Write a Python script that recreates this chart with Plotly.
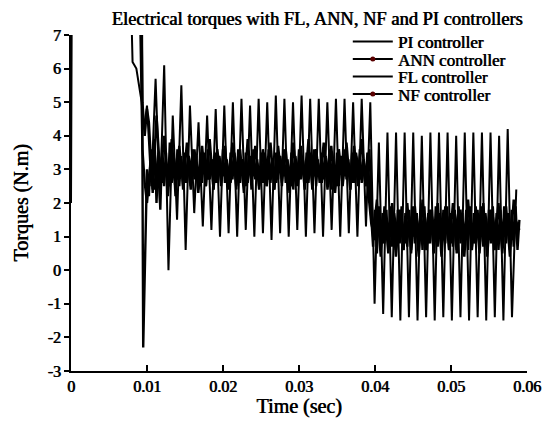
import numpy as np
import plotly.graph_objects as go

# ---------------- data ----------------
x_ticks = [0, 0.01, 0.02, 0.03, 0.04, 0.05, 0.06]
x_tick_labels = ["0", "0.01", "0.02", "0.03", "0.04", "0.05", "0.06"]
y_ticks = [-3, -2, -1, 0, 1, 2, 3, 4, 5, 6, 7]
y_tick_labels = ["-3", "-2", "-1", "0", "1", "2", "3", "4", "5", "6", "7"]

# PI controller: start-up transient, then a large oscillation (peak/trough alternating)
pi_lead_t = [0.0, 0.0002, 0.0078, 0.0080, 0.0081, 0.0086, 0.0090, 0.0093, 0.0096]
pi_lead_v = [2.0, 14.0, 9.0, 7.2, 6.2, 6.0, 5.5, 5.0, 4.2]
pi_osc_t0 = 0.0100
pi_osc_dt = 0.000565
pi_osc_v = [4.9, 2.5, 5.7, 2.0, 6.1, 0.0, 4.6, 1.5, 5.5, 0.6,
            4.9, 1.7, 4.4, 1.3, 4.6, 1.2, 4.8, 1.0, 4.9, 1.1,
            5.0, 1.0, 5.1, 1.2, 4.9, 1.0, 5.1, 1.1, 5.0, 0.9,
            5.2, 1.1, 5.1, 1.0, 5.0, 1.2, 5.2, 1.0, 5.1, 1.1,
            5.1, 1.0, 5.0, 1.2, 5.1, 1.0, 5.1, 1.1, 5.0, 1.0,
            5.1, 1.3, 5.0, -1.0, 3.8, -1.3, 4.1, -1.4, 4.1, -1.5,
            4.1, -1.4, 4.1, -1.5, 4.0, -1.4, 4.1, -1.5, 4.1, -1.4,
            4.1, -1.5, 4.0, -1.4, 4.1, -1.5, 4.1, -1.4, 4.1, -1.5,
            4.1, -1.4, 4.0, -1.5, 4.2, -1.4, 2.4]

# FL controller
fl_lead_t = [0.0, 0.0002, 0.0093, 0.0095]
fl_lead_v = [14.0, 14.0, 9.0, -2.3]
fl_t0 = 0.0100
fl_dt = 0.00025
fl_v = [3.0, 2.2, 3.6, 2.4, 3.9, 2.0, 3.4, 1.8, 3.7, 2.5,
        3.5, 2.3, 3.8, 2.6, 3.3, 2.2, 3.6, 2.5, 3.4, 2.4,
        3.5, 2.6, 3.3, 2.5, 3.6, 2.7, 3.4, 2.4, 3.5, 2.6,
        3.4, 2.5, 3.6, 2.7, 3.3, 2.4, 3.5, 2.6, 3.4, 2.5,
        3.6, 2.6, 3.3, 2.5, 3.5, 2.7, 3.4, 2.4, 3.6, 2.6,
        3.3, 2.5, 3.5, 2.6, 3.4, 2.4, 3.6, 2.7, 3.3, 2.5,
        3.5, 2.6, 3.4, 2.5, 3.6, 2.6, 3.3, 2.4, 3.5, 2.7,
        3.4, 2.5, 3.6, 2.6, 3.3, 2.5, 3.5, 2.4, 3.4, 2.6,
        3.6, 2.7, 3.3, 2.5, 3.5, 2.6, 3.4, 2.4, 3.6, 2.5,
        3.3, 2.6, 3.5, 2.7, 3.4, 2.5, 3.6, 2.4, 3.3, 2.6,
        3.5, 2.5, 3.4, 2.6, 3.6, 2.7, 3.3, 2.4, 3.5, 2.6,
        3.4, 2.5, 3.6, 2.6, 3.3, 2.5, 3.5, 2.4,
        1.6,
        0.7, 1.8, 0.5, 1.9, 0.6, 1.7, 0.8, 1.8, 0.6, 1.9,
        0.7, 1.7, 0.6, 1.8, 0.8, 1.9, 0.6, 1.7, 0.7, 1.8,
        0.6, 1.9, 0.8, 1.7, 0.7, 1.8, 0.6, 1.9, 0.7, 1.7,
        0.8, 1.8, 0.6, 1.9, 0.7, 1.7, 0.6, 1.8, 0.8, 1.9,
        0.6, 1.7, 0.7, 1.8, 0.6, 1.9, 0.8, 1.7, 0.7, 1.8,
        0.6, 1.9, 0.7, 1.7, 0.8, 1.8, 0.6, 1.9, 0.7, 1.7,
        0.6, 1.8, 0.8, 1.9, 0.7, 1.7, 0.6, 1.8, 0.7, 1.9,
        0.8, 1.7, 0.6, 1.8, 0.7, 1.9, 0.6, 1.5]

# ANN controller
ann_lead_t = [0.0, 0.0002, 0.0090, 0.0094, 0.0097]
ann_lead_v = [14.0, 14.0, 9.0, 3.6, 2.6]
ann_t0 = 0.0100
ann_dt = 0.0005
ann_v = [2.0, 3.3, 2.4, 3.5, 2.6, 3.2, 2.5, 3.4, 2.7, 3.3,
         2.6, 3.4, 2.8, 3.2, 2.5, 3.5, 2.7, 3.3, 2.6, 3.4,
         2.8, 3.2, 2.6, 3.5, 2.7, 3.3, 2.5, 3.4, 2.8, 3.2,
         2.6, 3.5, 2.7, 3.3, 2.6, 3.4, 2.8, 3.2, 2.5, 3.4,
         2.7, 3.3, 2.6, 3.5, 2.8, 3.2, 2.6, 3.4, 2.7, 3.3,
         2.5, 3.4, 2.8, 3.2, 2.6, 3.5, 2.7, 3.3, 2.6,
         1.4,
         0.9, 1.6, 0.8, 1.5, 1.0, 1.7, 0.9, 1.5, 0.8, 1.6,
         1.0, 1.5, 0.9, 1.7, 0.8, 1.6, 1.0, 1.5, 0.9, 1.6,
         0.8, 1.7, 1.0, 1.5, 0.9, 1.6, 0.8, 1.5, 1.0, 1.7,
         0.9, 1.6, 0.8, 1.5, 1.0, 1.6, 0.9, 1.5, 1.2]

# NF controller
nf_lead_t = [0.0, 0.0002, 0.0092, 0.0094, 0.0097, 0.0100]
nf_lead_v = [14.0, 14.0, 9.0, 5.0, 4.0, 4.8]
nf_t0 = 0.01025
nf_dt = 0.0005
nf_v = [4.4, 2.3, 4.6, 2.8, 4.0, 2.2, 3.9, 2.4, 3.7, 2.5,
        3.8, 2.4, 3.6, 2.3, 3.7, 2.5, 3.9, 2.4, 3.6, 2.6,
        3.7, 2.4, 3.8, 2.5, 3.6, 2.3, 3.9, 2.6, 3.7, 2.4,
        3.6, 2.5, 3.8, 2.4, 3.7, 2.6, 3.6, 2.3, 3.8, 2.5,
        3.7, 2.4, 3.9, 2.5, 3.6, 2.6, 3.8, 2.4, 3.7, 2.3,
        3.6, 2.5, 3.8, 2.4, 3.7, 2.6, 3.9, 2.5, 3.6,
        1.0,
        2.1, 0.4, 1.9, 0.5, 2.0, 0.4, 1.8, 0.6, 2.0, 0.5,
        1.9, 0.4, 2.1, 0.6, 1.8, 0.5, 2.0, 0.4, 1.9, 0.6,
        2.0, 0.5, 1.8, 0.4, 2.1, 0.6, 1.9, 0.5, 2.0, 0.4,
        1.8, 0.6, 2.0, 0.5, 1.9, 0.4, 2.1, 1.0]

series_names = ["PI controller", "ANN controller", "FL controller", "NF controller"]


def build(lead_t, lead_v, t0, dt, vals):
    t = list(lead_t) + list(t0 + dt * np.arange(len(vals)))
    v = list(lead_v) + list(vals)
    return t, v


pi_t, pi_y = build(pi_lead_t, pi_lead_v, pi_osc_t0, pi_osc_dt, pi_osc_v)
fl_t, fl_y = build(fl_lead_t, fl_lead_v, fl_t0, fl_dt, fl_v)
ann_t, ann_y = build(ann_lead_t, ann_lead_v, ann_t0, ann_dt, ann_v)
nf_t, nf_y = build(nf_lead_t, nf_lead_v, nf_t0, nf_dt, nf_v)

# ---------------- figure ----------------
FONT = "Liberation Serif"
BOLDISH = "0.7px 0px 0px black"   # thickens the regular serif strokes a little
W, H = 544, 417
ML, MR, MT, MB = 63, 25, 27, 54
PH = H - MT - MB


def f(size):
    return dict(family=FONT, size=size, color="black", shadow=BOLDISH)


fig = go.Figure()

for (t, v), w in [((pi_t, pi_y), 2.0), ((ann_t, ann_y), 2.4),
                  ((fl_t, fl_y), 2.4), ((nf_t, nf_y), 2.4)]:
    fig.add_trace(go.Scatter(x=t, y=v, mode="lines",
                             line=dict(color="black", width=w),
                             showlegend=False, hoverinfo="skip"))

# one legend per entry so the entries can sit as tightly as in the original
legend_centers_px = [34, 51.5, 69, 86.5]   # figure px from top
legend_ids = ["legend", "legend2", "legend3", "legend4"]
legend_layout = {}
for name, lid, cy in zip(series_names, legend_ids, legend_centers_px):
    with_marker = name.startswith("ANN") or name.startswith("NF")
    fig.add_trace(go.Scatter(
        x=[None], y=[None], name=name, legend=lid,
        mode="lines+markers" if with_marker else "lines",
        line=dict(color="black", width=2),
        marker=dict(color="#5a0000", size=5, line=dict(width=0)),
    ))
    legend_layout[lid] = dict(
        x=0.607, xanchor="left", y=(H - MB - cy) / PH, yanchor="middle",
        bgcolor="rgba(0,0,0,0)", borderwidth=0, font=f(17),
        itemwidth=40, visible=True)

fig.update_layout(
    width=W, height=H,
    margin=dict(l=ML, r=MR, t=MT, b=MB, autoexpand=False),
    paper_bgcolor="white", plot_bgcolor="white",
    font=dict(family=FONT, size=16, color="black"),
    title=dict(text="Electrical torques with FL, ANN, NF and PI controllers",
               xref="container", yref="container",
               x=309 / W, xanchor="center", y=1 - 11 / H, yanchor="middle",
               font=f(18.5)),
    showlegend=True,
    **legend_layout,
)

fig.update_xaxes(
    range=[0, 0.06], tickvals=x_ticks, ticktext=x_tick_labels, automargin=False,
    showgrid=False, zeroline=False, showline=True, linecolor="black", linewidth=2,
    ticks="inside", ticklen=6, tickwidth=1.5, tickcolor="black",
    tickfont=f(16),
    title=dict(text="Time (sec)", standoff=3, font=f(20)),
)
fig.update_yaxes(
    range=[-3, 7], tickvals=y_ticks, ticktext=y_tick_labels, automargin=False,
    showgrid=False, zeroline=False, showline=True, linecolor="black", linewidth=2,
    ticks="outside", ticklen=5, tickwidth=1.5, tickcolor="black",
    tickfont=f(16),
    title=dict(text="Torques (N.m)", standoff=13, font=f(20)),
)

fig.write_html("out.html")
